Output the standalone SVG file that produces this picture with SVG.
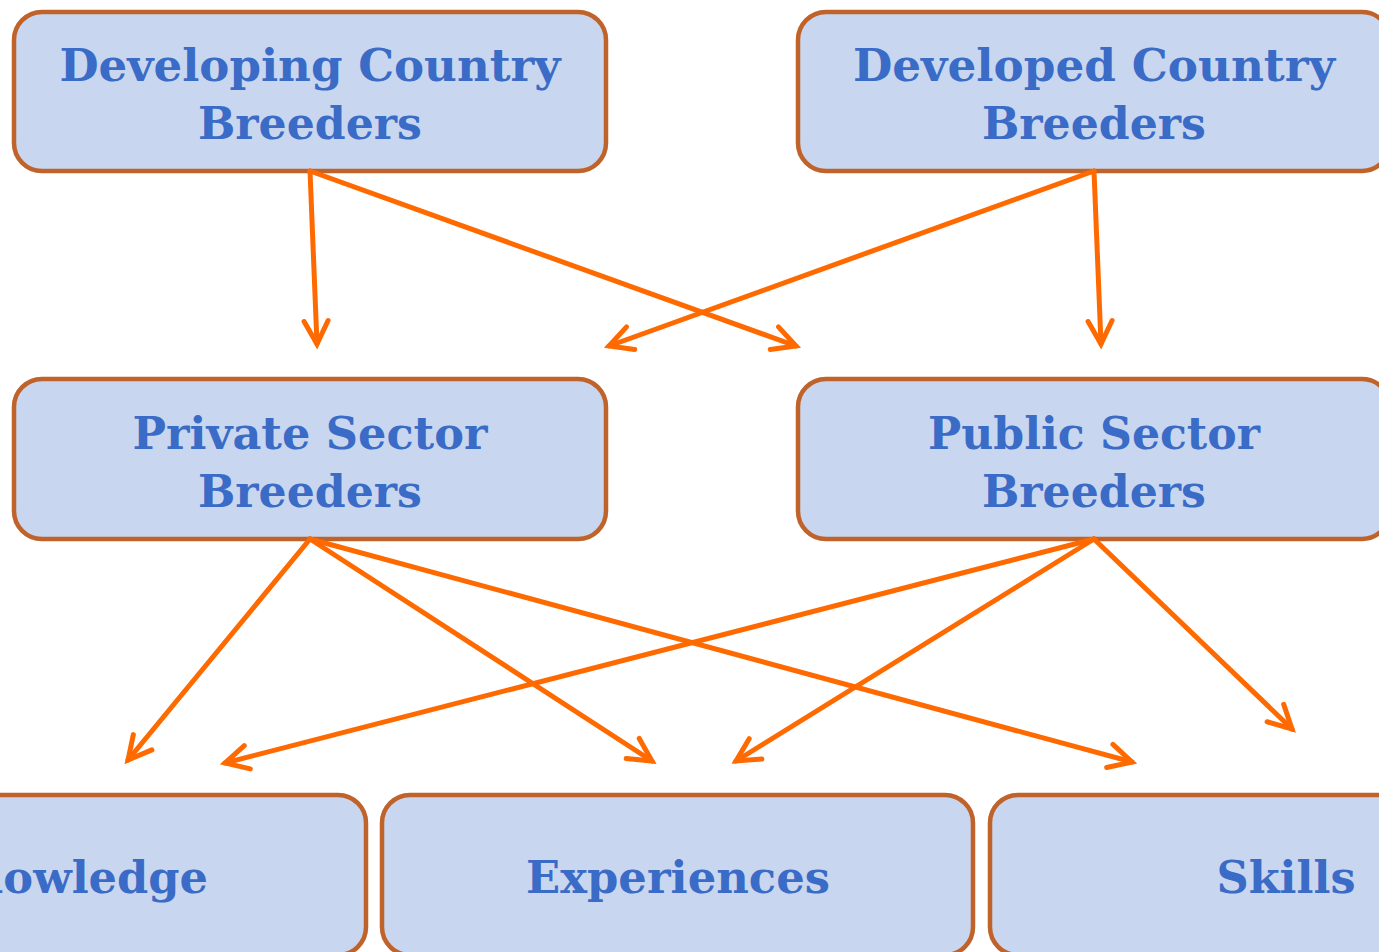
<svg xmlns="http://www.w3.org/2000/svg" width="1379" height="952" viewBox="0 0 1379 952">
  <style>
    .box { fill: #C8D7EF; stroke: #C0632B; stroke-width: 4.5; }
    .lbl { font-family: "DejaVu Serif", "Liberation Serif", serif; font-weight: bold; font-size: 45px; fill: #3A6BC6; text-anchor: middle; }
    .edge { fill: none; stroke: #FF6A00; stroke-width: 5; stroke-linecap: round; marker-end: url(#arrow); }
  </style>
  <defs>
    <marker id="arrow" markerUnits="userSpaceOnUse" viewBox="-30 -20 40 40" refX="0" refY="0" markerWidth="40" markerHeight="40" orient="auto" overflow="visible">
      <path d="M -23 -12 L 0 0 L -23 12" fill="none" stroke="#FF6A00" stroke-width="5" stroke-linecap="round" stroke-linejoin="miter"/>
    </marker>
  </defs>
  <rect width="1379" height="952" fill="#FFFFFF"/>

  <g id="developing">
    <rect class="box" x="14" y="12" width="592" height="159" rx="28"/>
    <text class="lbl" x="310" y="81" textLength="501" lengthAdjust="spacingAndGlyphs">Developing Country</text>
    <text class="lbl" x="310" y="139" textLength="224" lengthAdjust="spacingAndGlyphs">Breeders</text>
  </g>
  <g id="developed">
    <rect class="box" x="798" y="12" width="592" height="159" rx="28"/>
    <text class="lbl" x="1094" y="81" textLength="482" lengthAdjust="spacingAndGlyphs">Developed Country</text>
    <text class="lbl" x="1094" y="139" textLength="224" lengthAdjust="spacingAndGlyphs">Breeders</text>
  </g>
  <g id="private">
    <rect class="box" x="14" y="379" width="592" height="160" rx="28"/>
    <text class="lbl" x="310" y="449" textLength="355" lengthAdjust="spacingAndGlyphs">Private Sector</text>
    <text class="lbl" x="310" y="507" textLength="224" lengthAdjust="spacingAndGlyphs">Breeders</text>
  </g>
  <g id="public">
    <rect class="box" x="798" y="379" width="592" height="160" rx="28"/>
    <text class="lbl" x="1094" y="449" textLength="332" lengthAdjust="spacingAndGlyphs">Public Sector</text>
    <text class="lbl" x="1094" y="507" textLength="224" lengthAdjust="spacingAndGlyphs">Breeders</text>
  </g>
  <g id="knowledge">
    <rect class="box" x="-226" y="795" width="592" height="160" rx="28"/>
    <text class="lbl" x="70" y="893" textLength="276" lengthAdjust="spacingAndGlyphs">Knowledge</text>
  </g>
  <g id="experiences">
    <rect class="box" x="382" y="795" width="591" height="160" rx="28"/>
    <text class="lbl" x="678" y="893" textLength="304" lengthAdjust="spacingAndGlyphs">Experiences</text>
  </g>
  <g id="skills">
    <rect class="box" x="990" y="795" width="592" height="160" rx="28"/>
    <text class="lbl" x="1286" y="893" textLength="139" lengthAdjust="spacingAndGlyphs">Skills</text>
  </g>

  <g id="connectors">
    <path class="edge" d="M 310 171 L 317 344"/>
    <path class="edge" d="M 310 171 L 796 346"/>
    <path class="edge" d="M 1094 171 L 609 346"/>
    <path class="edge" d="M 1094 171 L 1101 344"/>
    <path class="edge" d="M 310 539 L 128 760"/>
    <path class="edge" d="M 310 539 L 652 761"/>
    <path class="edge" d="M 310 539 L 1132 762"/>
    <path class="edge" d="M 1094 539 L 225 763"/>
    <path class="edge" d="M 1094 539 L 736 761"/>
    <path class="edge" d="M 1094 539 L 1292 729"/>
  </g>
</svg>
